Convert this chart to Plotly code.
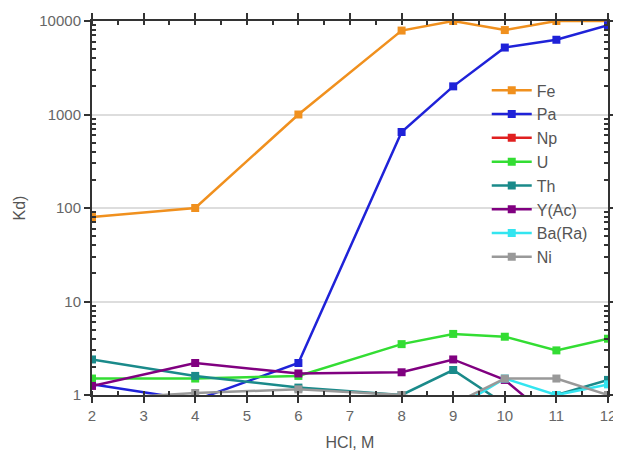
import plotly.graph_objects as go

hcl = [2, 4, 6, 8, 9, 10, 11, 12]

fe = [80, 100, 1000, 7900, 10000, 8000, 10000, 10000]
pa = [1.3, 0.88, 2.2, 650, 2000, 5200, 6300, 9000]
np_ = [0.5, 0.5, 0.5, 0.5, 0.5, 0.5, 0.5, 0.5]
u = [1.5, 1.5, 1.6, 3.5, 4.5, 4.2, 3.0, 4.0]
th = [2.4, 1.6, 1.2, 1.0, 1.85, 0.8, 1.0, 1.45]
y_ac = [1.25, 2.2, 1.7, 1.75, 2.4, 1.45, 0.5, 0.5]
ba_ra = [0.6, 0.6, 0.6, 0.6, 0.7, 1.5, 1.0, 1.3]
ni = [0.9, 1.05, 1.15, 1.0, 0.8, 1.5, 1.5, 1.0]

series = [
    ("Fe", fe, "#f0901e"),
    ("Pa", pa, "#1f22d8"),
    ("Np", np_, "#e02020"),
    ("U", u, "#33dd33"),
    ("Th", th, "#1a8a8a"),
    ("Y(Ac)", y_ac, "#800080"),
    ("Ba(Ra)", ba_ra, "#33e5f0"),
    ("Ni", ni, "#999999"),
]

minor_y = [m * 10 ** d for d in range(4) for m in range(2, 10)]

fig = go.Figure()
for name, vals, col in series:
    fig.add_trace(go.Scatter(
        x=hcl, y=vals, name=name, mode="lines+markers",
        line=dict(color=col, width=2.5),
        marker=dict(symbol="square", size=8, color=col),
    ))

fig.update_layout(
    width=613, height=451,
    margin=dict(l=84, r=9, t=5, b=64),
    paper_bgcolor="white", plot_bgcolor="white",
    font=dict(family="Liberation Sans, Arial, sans-serif", size=15, color="#666"),
    showlegend=True,
    legend=dict(x=0.765, y=0.86, xanchor="left", yanchor="top",
                bgcolor="rgba(0,0,0,0)", font=dict(size=16, color="#555"),
                itemwidth=40, tracegroupgap=0),
)
fig.update_xaxes(
    range=[2, 12], dtick=1, tick0=2,
    showline=True, linecolor="#333", linewidth=2, mirror="ticks",
    ticks="outside", ticklen=6, tickcolor="#333", tickwidth=2,
    minor=dict(dtick=0.5, ticks="inside", ticklen=4, tickcolor="#333", tickwidth=1.5),
    showgrid=False, zeroline=False,
    title=dict(text="HCl, M", font=dict(size=16, color="#555"), standoff=14),
)
fig.update_yaxes(
    type="log", range=[0, 4],
    tickvals=[1, 10, 100, 1000, 10000],
    ticktext=["1", "10", "100", "1000", "10000"],
    showline=True, linecolor="#333", linewidth=2, mirror="ticks",
    ticks="outside", ticklen=6, tickcolor="#333", tickwidth=2,
    minor=dict(tickvals=minor_y, ticks="inside", ticklen=4, tickcolor="#333",
               tickwidth=1.5, showgrid=False),
    showgrid=True, gridcolor="#dddddd", gridwidth=1.5,
    zeroline=False,
    title=dict(text="Kd)", font=dict(size=16, color="#555"), standoff=10),
)

fig.write_html("out.html")
